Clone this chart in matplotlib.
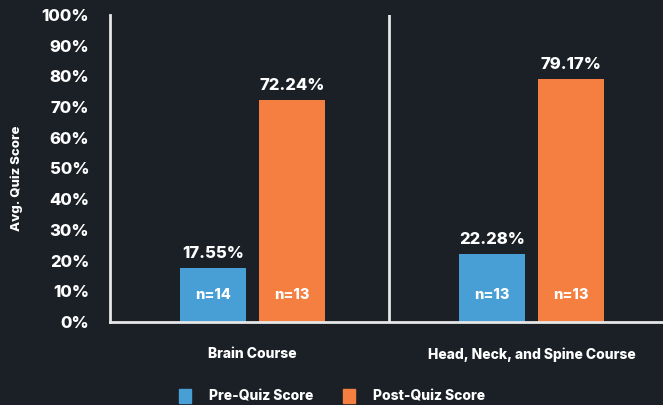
import matplotlib
matplotlib.use("Agg")
import matplotlib.pyplot as plt
from matplotlib.patches import Patch
import numpy as np

plt.rcParams['font.family'] = ['Inter', 'DejaVu Sans']
plt.rcParams['font.weight'] = 'heavy'

categories = ["Brain Course", "Head, Neck, and Spine Course"]
pre_scores = [17.55, 22.28]
post_scores = [72.24, 79.17]
pre_n = [14, 13]
post_n = [13, 13]
series_names = ["Pre-Quiz Score", "Post-Quiz Score"]
yticks = [0, 10, 20, 30, 40, 50, 60, 70, 80, 90, 100]

BG = "#1b2027"
BLUE = "#479fd6"
ORANGE = "#f47f40"
LINE = "#e6e6e6"
W = 'heavy'

fig = plt.figure(figsize=(6.63, 4.05), dpi=100, facecolor=BG)
ax = fig.add_axes([110/663, 1-322/405, 553/663, 307/405], facecolor=BG)

x = np.arange(len(categories))
w = 0.237
off = 0.1415
ax.bar(x - off, pre_scores, w, color=BLUE)
ax.bar(x + off, post_scores, w, color=ORANGE)

for xi, v, n in zip(x - off, pre_scores, pre_n):
    ax.text(xi, v + 2.2, f"{v:.2f}%", ha='center', va='bottom', color='white', fontsize=12, fontweight=W)
    ax.text(xi, 8.8, f"n={n}", ha='center', va='center', color='white', fontsize=10.5, fontweight=W)
for xi, v, n in zip(x + off, post_scores, post_n):
    ax.text(xi, v + 2.2, f"{v:.2f}%", ha='center', va='bottom', color='white', fontsize=12, fontweight=W)
    ax.text(xi, 8.8, f"n={n}", ha='center', va='center', color='white', fontsize=10.5, fontweight=W)

ax.set_xlim(-0.511, 1.471)
ax.set_ylim(0, 100)
ax.set_yticks(yticks)
ax.set_yticklabels([f"{t}%" for t in yticks], color='white', fontsize=12, fontweight=W)
ax.set_xticks(x)
ax.set_xticklabels(categories, color='white', fontsize=10, fontweight=W)
ax.tick_params(axis='y', length=0, pad=15)
ax.tick_params(axis='x', length=0, pad=18)
fig.text(17/663, 1-178/405, "Avg. Quiz Score", rotation=90, ha='center', va='center',
         color='white', fontsize=9.5, fontweight=W)

for s in ['top', 'right']:
    ax.spines[s].set_visible(False)
ax.spines['left'].set_color(LINE)
ax.spines['left'].set_linewidth(2)
ax.spines['bottom'].set_color(LINE)
ax.spines['bottom'].set_linewidth(2)
ax.axvline(0.489, color=LINE, linewidth=2)

handles = [Patch(color=BLUE), Patch(color=ORANGE)]
fig.legend(handles, series_names, loc='center', bbox_to_anchor=(332/663, 1-396/405), ncol=2,
           frameon=False, labelcolor='white', handlelength=0.85, handleheight=1.2,
           handletextpad=1.3, columnspacing=2.1, prop={'weight': W, 'size': 10})

fig.savefig("out.png", dpi=100, facecolor=BG)
